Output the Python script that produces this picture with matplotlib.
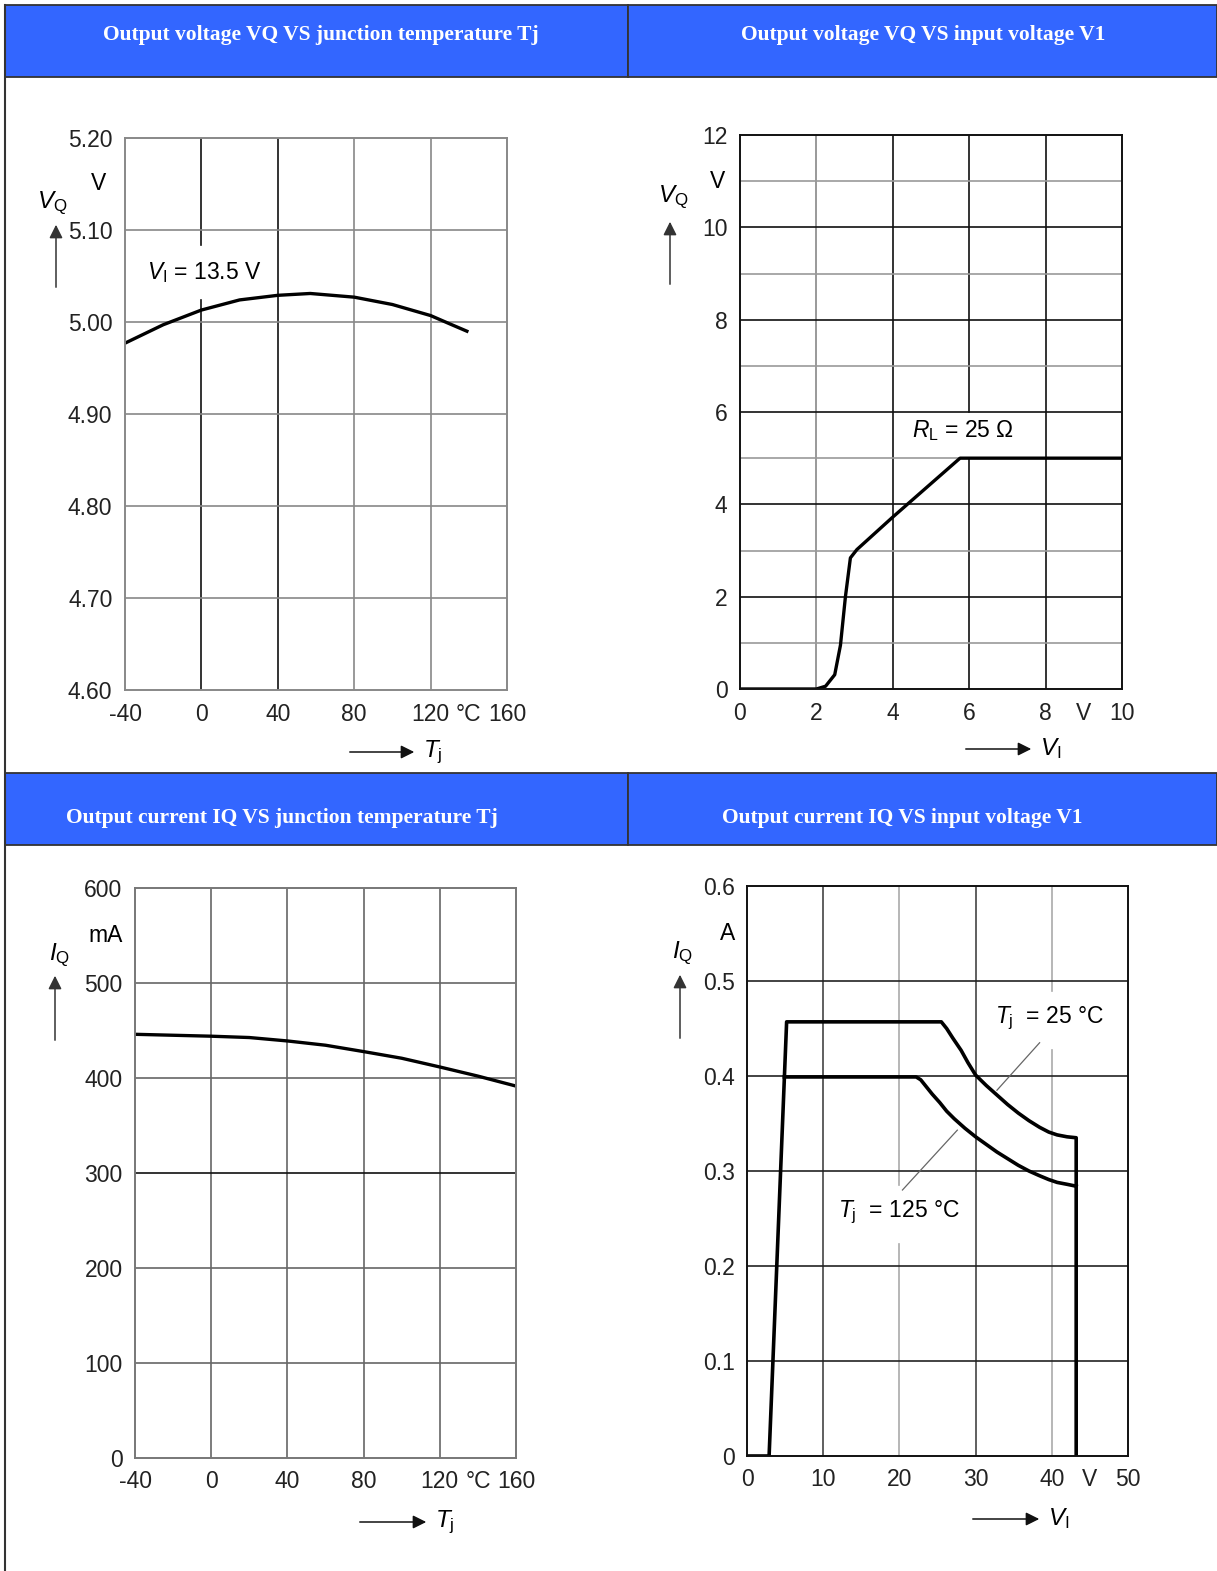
import numpy as np
import matplotlib.pyplot as plt
from matplotlib import font_manager
from matplotlib.patches import Rectangle
from matplotlib.lines import Line2D

names = {f.name for f in font_manager.fontManager.ttflist}
if 'Liberation Sans Narrow' in names:
    sans, fs = 'Liberation Sans Narrow', 19
else:
    sans, fs = 'Liberation Sans', 16.5

plt.rcParams['font.family'] = [sans, 'DejaVu Sans']
plt.rcParams['mathtext.fontset'] = 'custom'
plt.rcParams['mathtext.rm'] = sans
plt.rcParams['mathtext.it'] = sans + ':italic'

# ---- data ----
titles = ["Output voltage VQ VS junction temperature Tj",
          "Output voltage VQ VS input voltage V1",
          "Output current IQ VS junction temperature Tj",
          "Output current IQ VS input voltage V1"]

# VQ vs Tj (VI = 13.5 V)
tj_v = [-40, -20, 0, 20, 40, 57, 80, 100, 120, 130, 139]
vq_t = [4.977, 4.997, 5.013, 5.024, 5.029, 5.031, 5.027, 5.019, 5.007, 4.998, 4.990]

# VQ vs VI (RL = 25 ohm)
vi_v = [0, 2.0, 2.24, 2.48, 2.63, 2.76, 2.89, 3.06, 3.98, 5.76, 10]
vq_v = [0, 0, 0.06, 0.31, 0.95, 2.0, 2.84, 3.02, 3.71, 5.0, 5.0]

# IQ vs Tj
tj_i = [-40, 0, 20, 40, 60, 80, 100, 120, 140, 160]
iq_t = [446, 444, 442.6, 439, 434.5, 427.8, 420.8, 411.6, 402, 391.5]

# IQ vs VI, Tj = 25 C
vi_25 = [0, 2.9, 5.2, 25.5, 26.2, 27.0, 28.1, 29.0, 30.0, 31.4, 32.8, 34.2,
         35.6, 37.0, 38.4, 39.6, 40.7, 42.0, 43.2, 43.2]
iq_25 = [0, 0, 0.457, 0.457, 0.450, 0.440, 0.427, 0.414, 0.401, 0.390, 0.380, 0.370,
         0.361, 0.353, 0.346, 0.341, 0.338, 0.336, 0.335, 0]
# IQ vs VI, Tj = 125 C
vi_125 = [4.9, 22.2, 22.8, 23.4, 24.3, 25.3, 26.2, 27.2, 28.6, 30.0, 31.4, 32.8,
          34.2, 35.6, 37.0, 38.4, 39.6, 40.7, 42.0, 43.2]
iq_125 = [0.399, 0.399, 0.396, 0.390, 0.381, 0.372, 0.363, 0.355, 0.345, 0.336, 0.328,
          0.320, 0.313, 0.306, 0.300, 0.295, 0.291, 0.288, 0.286, 0.284]

W, H = 1217, 1571
fig = plt.figure(figsize=(W / 100, H / 100), dpi=100)


def fx(x):
    return x / W


def fy(y):
    return 1 - y / H


def add_ax(l, t, r, b):
    return fig.add_axes([fx(l), fy(b), (r - l) / W, (b - t) / H])


def fline(xs, ys, **kw):
    fig.add_artist(Line2D([fx(x) for x in xs], [fy(y) for y in ys],
                          transform=fig.transFigure, **kw))


# ---- table / headers ----
border = '#333333'
for top, bot in [(5, 77), (773, 845)]:
    for l, r in [(5, 628), (628, 1217)]:
        fig.patches.append(Rectangle((fx(l), fy(bot)), (r - l) / W, (bot - top) / H,
                                     transform=fig.transFigure, facecolor='#3366ff',
                                     edgecolor=border, lw=1.3))
fline([5, 5], [5, 1571], color=border, lw=1.5)

head_pos = [(321, 35), (923, 35), (282, 818), (902, 818)]
for t, (x, y) in zip(titles, head_pos):
    fig.text(fx(x), fy(y), t, ha='center', va='center', color='white',
             fontsize=15.5, fontweight='bold', family='Liberation Serif')


def setup(ax, xlim, ylim, xt, xl, yt, yl, spine):
    ax.set_xlim(xlim)
    ax.set_ylim(ylim)
    ax.set_xticks(xt, xl)
    ax.set_yticks(yt, yl)
    ax.tick_params(length=0, labelsize=fs, colors='#222222')
    ax.tick_params(axis='y', pad=9)
    ax.tick_params(axis='x', pad=9)
    for s in ax.spines.values():
        s.set_color(spine)
        s.set_linewidth(1.4)
        s.set_zorder(5)


def grid(ax, vs, vc, hs, hc, ylim, gaps=None):
    gaps = gaps or {}
    lo, hi = ylim
    for v, c in zip(vs, vc):
        if v in gaps:
            g0, g1 = gaps[v]
            ax.axvline(v, 0, (g0 - lo) / (hi - lo), color=c, lw=1.2, zorder=1)
            ax.axvline(v, (g1 - lo) / (hi - lo), 1, color=c, lw=1.2, zorder=1)
        else:
            ax.axvline(v, color=c, lw=1.2, zorder=1)
    for h, c in zip(hs, hc):
        ax.axhline(h, color=c, lw=1.2, zorder=1)


def ylab(x, y, txt, ax0, ay0, ay1):
    fig.text(fx(x), fy(y), txt, ha='center', va='center', fontsize=fs + 1)
    fig.add_artist(plt.Annotation('', xy=(fx(ax0), fy(ay1)), xytext=(fx(ax0), fy(ay0)),
                                  xycoords='figure fraction',
                                  arrowprops=dict(arrowstyle='-|>', color='#333333',
                                                  lw=1.1, mutation_scale=20)))


def xlab(x0, x1, y, txt):
    fig.add_artist(plt.Annotation('', xy=(fx(x1), fy(y)), xytext=(fx(x0), fy(y)),
                                  xycoords='figure fraction',
                                  arrowprops=dict(arrowstyle='-|>', color='#111111',
                                                  lw=1.1, mutation_scale=20)))
    fig.text(fx(x1 + 6), fy(y), txt, ha='left', va='center', fontsize=fs + 1)


# ---- chart 1 ----
ax = add_ax(125, 138, 507, 690)
setup(ax, (-40, 160), (4.6, 5.2), [-40, 0, 40, 80, 120, 140, 160],
      ['-40', '0', '40', '80', '120', '°C', '160'],
      [4.6, 4.7, 4.8, 4.9, 5.0, 5.1, 5.2],
      ['4.60', '4.70', '4.80', '4.90', '5.00', '5.10', '5.20'], '#888888')
grid(ax, [0, 40, 80, 120], ['#111111', '#111111', '#888888', '#888888'],
     [4.7, 4.8, 4.9, 5.0, 5.1], ['#888888'] * 5, (4.6, 5.2), {0: (5.024, 5.084)})
ax.plot(tj_v, vq_t, color='black', lw=2.4, zorder=4)
ax.text(-28.5, 5.054, r'$V_{\mathrm{I}}$ = 13.5 V', ha='left', va='center',
        fontsize=fs, zorder=3)
ax.text(-0.07, 5.15, 'V', transform=ax.get_yaxis_transform(), ha='center',
        va='center', fontsize=fs)
ylab(52, 203, r'$V_{\mathrm{Q}}$', 56, 290, 222)
xlab(347, 417, 752, r'$T_{\mathrm{j}}$')

# ---- chart 2 ----
ax = add_ax(740, 135, 1122, 689)
setup(ax, (0, 10), (0, 12), [0, 2, 4, 6, 8, 9, 10],
      ['0', '2', '4', '6', '8', 'V', '10'],
      [0, 2, 4, 6, 8, 10, 12], ['0', '2', '4', '6', '8', '10', '12'], '#111111')
grid(ax, [2, 4, 6, 8], ['#888888', '#111111', '#111111', '#111111'],
     list(range(1, 12)), ['#999999' if h % 2 else '#111111' for h in range(1, 12)],
     (0, 12), {6: (5.0, 6.0)})
ax.plot(vi_v, vq_v, color='black', lw=2.4, zorder=4)
ax.text(4.5, 5.6, r'$R_{\mathrm{L}}$ = 25 Ω', ha='left', va='center',
        fontsize=fs, zorder=3)
ax.text(-0.058, 11, 'V', transform=ax.get_yaxis_transform(), ha='center',
        va='center', fontsize=fs)
ylab(673, 197, r'$V_{\mathrm{Q}}$', 670, 287, 219)
xlab(963, 1034, 749, r'$V_{\mathrm{I}}$')

# ---- chart 3 ----
ax = add_ax(135, 888, 516, 1458)
setup(ax, (-40, 160), (0, 600), [-40, 0, 40, 80, 120, 140, 160],
      ['-40', '0', '40', '80', '120', '°C', '160'],
      [0, 100, 200, 300, 400, 500, 600],
      ['0', '100', '200', '300', '400', '500', '600'], '#777777')
grid(ax, [0, 40, 80, 120], ['#666666'] * 4,
     [100, 200, 300, 400, 500], ['#666666', '#666666', '#111111', '#666666', '#666666'],
     (0, 600))
ax.plot(tj_i, iq_t, color='black', lw=2.4, zorder=4)
ax.text(-0.076, 550, 'mA', transform=ax.get_yaxis_transform(), ha='center',
        va='center', fontsize=fs)
ylab(60, 955, r'$I_{\mathrm{Q}}$', 55, 1043, 973)
xlab(357, 429, 1522, r'$T_{\mathrm{j}}$')

# ---- chart 4 ----
ax = add_ax(747, 886, 1128, 1456)
setup(ax, (0, 50), (0, 0.6), [0, 10, 20, 30, 40, 45, 50],
      ['0', '10', '20', '30', '40', 'V', '50'],
      [0, 0.1, 0.2, 0.3, 0.4, 0.5, 0.6],
      ['0', '0.1', '0.2', '0.3', '0.4', '0.5', '0.6'], '#111111')
grid(ax, [10, 20, 30, 40], ['#444444', '#aaaaaa', '#444444', '#aaaaaa'],
     [0.1, 0.2, 0.3, 0.4, 0.5], ['#222222'] * 5, (0, 0.6),
     {20: (0.223, 0.285), 40: (0.427, 0.489)})
ax.plot(vi_25, iq_25, color='black', lw=2.6, zorder=4)
ax.plot(vi_125, iq_125, color='black', lw=2.6, zorder=4)
ax.plot([38.4, 32.8], [0.435, 0.385], color='#666666', lw=0.9, zorder=3)
ax.plot([27.6, 20.4], [0.343, 0.280], color='#666666', lw=0.9, zorder=3)
ax.text(32.5, 0.461, r'$T_{\mathrm{j}}$  = 25 °C', ha='left', va='center',
        fontsize=fs, zorder=3)
ax.text(11.9, 0.257, r'$T_{\mathrm{j}}$  = 125 °C', ha='left', va='center',
        fontsize=fs, zorder=3)
ax.text(-0.052, 0.55, 'A', transform=ax.get_yaxis_transform(), ha='center',
        va='center', fontsize=fs)
ylab(683, 953, r'$I_{\mathrm{Q}}$', 680, 1041, 972)
xlab(970, 1042, 1519, r'$V_{\mathrm{I}}$')

fig.savefig('out.png', dpi=100)
